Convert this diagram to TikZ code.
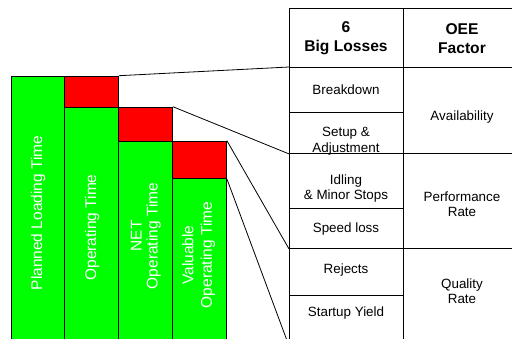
\documentclass[tikz,border=0pt]{standalone}
\usepackage{fontspec}
\setmainfont{Liberation Sans}
\definecolor{bargreen}{HTML}{00FF00}
\definecolor{barred}{HTML}{FF0000}
\begin{document}
\begin{tikzpicture}[x=1pt,y=-1pt,
  box/.style={draw=black,line width=0.9pt,rectangle,inner sep=0pt,anchor=north west},
  gbar/.style={box,fill=bargreen},
  rbar/.style={box,fill=barred},
  cell/.style={box},
  celltext/.style={inner sep=0pt,align=center,font=\fontsize{13.4}{15}\selectfont},
  hdrtext/.style={inner sep=0pt,align=center,font=\fontsize{15.6}{19}\selectfont\bfseries},
  bartext/.style={rotate=90,text=white,align=center,inner sep=0pt,font=\fontsize{15.5}{16}\selectfont},
  conn/.style={draw=black,line width=0.8pt}]
\useasboundingbox (0,0) rectangle (512,338);
\clip (0,0) rectangle (512,338);
% bars
\node[gbar,minimum width=53.3pt,minimum height=280pt] (bar1) at (10.7,75.7) {};
\node[rbar,minimum width=54pt,minimum height=31pt] (red1) at (64,75.7) {};
\node[gbar,minimum width=54pt,minimum height=250pt] (bar2) at (64,106.7) {};
\node[rbar,minimum width=54pt,minimum height=34pt] (red2) at (118,106.7) {};
\node[gbar,minimum width=54pt,minimum height=220pt] (bar3) at (118,140.7) {};
\node[rbar,minimum width=54pt,minimum height=37.3pt] (red3) at (172,140.7) {};
\node[gbar,minimum width=54pt,minimum height=180pt] (bar4) at (172,178) {};
% bar labels
\node[bartext] (t1) at (38,213) {Planned Loading Time};
\node[bartext] (t2) at (92,227.5) {Operating Time};
\node[bartext] (t3) at (146,236) {NET\\Operating Time};
\node[bartext] (t4) at (198.5,255) {Valuable\\[2.5pt]Operating Time};
% table cells
\node[cell,minimum width=114pt,minimum height=59pt] (h1) at (289,8) {};
\node[cell,minimum width=118pt,minimum height=59pt] (h2) at (403,8) {};
\node[cell,minimum width=114pt,minimum height=45pt] (r1) at (289,67) {};
\node[cell,minimum width=114pt,minimum height=41pt] (r2) at (289,112) {};
\node[cell,minimum width=114pt,minimum height=55pt] (r3) at (289,153) {};
\node[cell,minimum width=114pt,minimum height=40pt] (r4) at (289,208) {};
\node[cell,minimum width=114pt,minimum height=47pt] (r5) at (289,248) {};
\node[cell,minimum width=114pt,minimum height=50pt] (r6) at (289,295) {};
\node[cell,minimum width=118pt,minimum height=86pt] (f1) at (403,67) {};
\node[cell,minimum width=118pt,minimum height=95pt] (f2) at (403,153) {};
\node[cell,minimum width=118pt,minimum height=97pt] (f3) at (403,248) {};
% table texts
\node[hdrtext] (h1t) at (346,38.5) {6\\Big Losses};
\node[hdrtext] (h2t) at (462,38.5) {OEE\\Factor};
\node[celltext] (r1t) at (346,90) {Breakdown};
\node[celltext] (r2t) at (346,141) {Setup \&\\[1.5pt]Adjustment};
\node[celltext] (r3t) at (346,188.5) {Idling\\\& Minor Stops};
\node[celltext] (r4t) at (346,229) {Speed loss};
\node[celltext] (r5t) at (346,270.5) {Rejects};
\node[celltext] (r6t) at (346,313.5) {Startup Yield};
\node[celltext] (f1t) at (462,117) {Availability};
\node[celltext] (f2t) at (462,203.8) {Performance\\Rate};
\node[celltext] (f3t) at (462,291.5) {Quality\\Rate};
% connectors
\draw[conn] (red1.north east) -- (r1.north west);
\draw[conn] (red2.north east) -- (r2.south west);
\draw[conn] (red3.north east) -- (r4.south west);
\draw[conn] (red3.south east) -- (r6.south west);
\end{tikzpicture}
\end{document}
